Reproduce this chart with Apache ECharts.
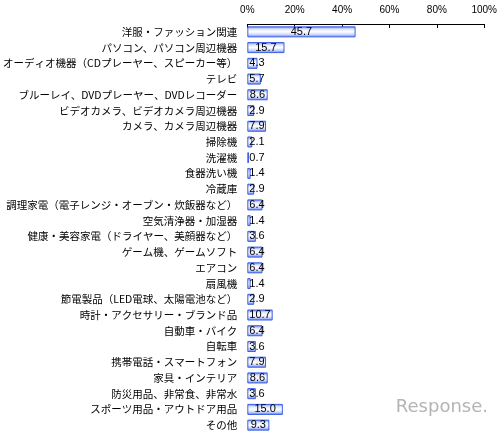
<!DOCTYPE html>
<html><head><meta charset="utf-8">
<script src="https://cdn.jsdelivr.net/npm/echarts@6/dist/echarts.min.js"></script>
<style>html,body{margin:0;padding:0;background:#fff}#c{width:500px;height:434px}</style>
</head><body><div id="c"></div>
<script>
const categories = [
  '洋服・ファッション関連',
  'パソコン、パソコン周辺機器',
  'オーディオ機器（CDプレーヤー、スピーカー等）',
  'テレビ',
  'ブルーレイ、DVDプレーヤー、DVDレコーダー',
  'ビデオカメラ、ビデオカメラ周辺機器',
  'カメラ、カメラ周辺機器',
  '掃除機',
  '洗濯機',
  '食器洗い機',
  '冷蔵庫',
  '調理家電（電子レンジ・オーブン・炊飯器など）',
  '空気清浄器・加湿器',
  '健康・美容家電（ドライヤー、美顔器など）',
  'ゲーム機、ゲームソフト',
  'エアコン',
  '扇風機',
  '節電製品（LED電球、太陽電池など）',
  '時計・アクセサリー・ブランド品',
  '自動車・バイク',
  '自転車',
  '携帯電話・スマートフォン',
  '家具・インテリア',
  '防災用品、非常食、非常水',
  'スポーツ用品・アウトドア用品',
  'その他'
];
const values = [45.7, 15.7, 4.3, 5.7, 8.6, 2.9, 7.9, 2.1, 0.7, 1.4, 2.9, 6.4, 1.4, 3.6, 6.4, 6.4, 1.4, 2.9, 10.7, 6.4, 3.6, 7.9, 8.6, 3.6, 15.0, 9.3];
const axisTicks = [0, 20, 40, 60, 80, 100];

const chart = echarts.init(document.getElementById('c'), null, {renderer: 'canvas'});
const barColor = {
  type: 'linear', x: 0, y: 0, x2: 0, y2: 1,
  colorStops: [
    {offset: 0, color: '#5a78f0'},
    {offset: 0.25, color: '#dfe6fd'},
    {offset: 0.5, color: '#ffffff'},
    {offset: 0.75, color: '#c9d5fb'},
    {offset: 1, color: '#5a78f0'}
  ]
};
const data = values.map(v => ({
  value: v,
  label: v >= 8 ? {position: 'inside'} : {position: 'insideLeft', distance: 2}
}));
chart.setOption({
  animation: false,
  grid: {left: 247, right: 15, top: 24, bottom: 1, containLabel: false},
  xAxis: {
    type: 'value', position: 'top', min: axisTicks[0], max: axisTicks[axisTicks.length - 1], interval: 20,
    axisLine: {show: true, lineStyle: {color: '#000', width: 1}},
    axisTick: {show: true, inside: true, length: 4, lineStyle: {color: '#000'}},
    splitLine: {show: false},
    axisLabel: {formatter: '{value}%', color: '#000', fontSize: 10, margin: 9, fontFamily: 'Liberation Sans, Arial, sans-serif'}
  },
  yAxis: {
    type: 'category', data: categories, inverse: true,
    axisLine: {show: false}, axisTick: {show: false},
    axisLabel: {color: '#000', fontSize: 10.5, margin: 10, fontFamily: 'Noto Sans CJK JP, sans-serif', interval: 0}
  },
  series: [{
    type: 'bar', data: data, barCategoryGap: '30%',
    itemStyle: {color: barColor, borderColor: '#3d5fe8', borderWidth: 1},
    label: {show: true, color: '#000', fontSize: 11, fontFamily: 'Liberation Sans, Arial, sans-serif',
      formatter: p => p.value.toFixed(1)}
  }],
  graphic: [{
    type: 'text', right: 12, bottom: 18,
    style: {text: 'Response.', fill: '#b4b4b4', font: '18px "DejaVu Sans", sans-serif'}
  }]
});
</script></body></html>
